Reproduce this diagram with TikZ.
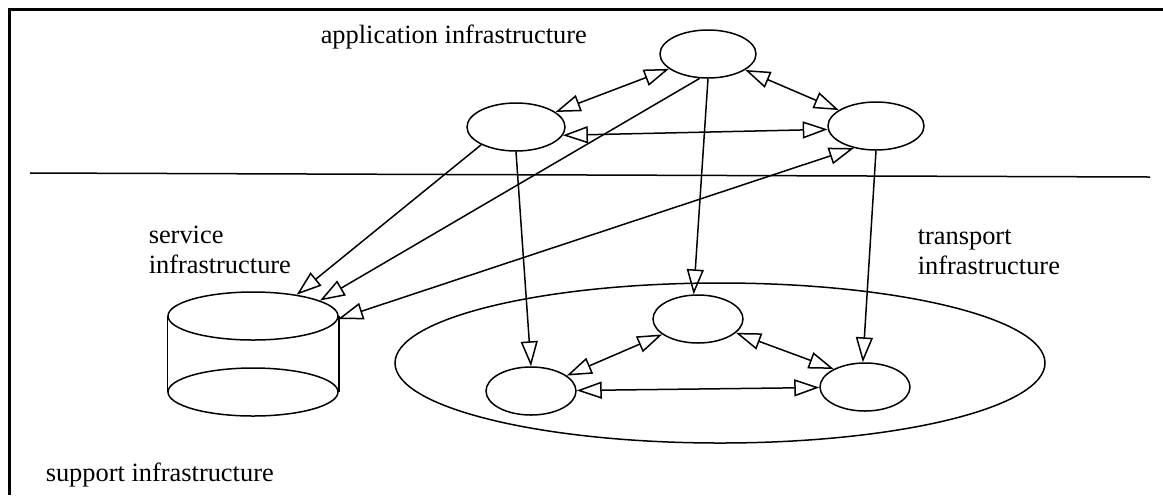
\documentclass[tikz,border=0pt]{standalone}
\usepackage{fontspec}
\setmainfont{Liberation Serif}
\usetikzlibrary{arrows.meta,shapes.geometric}

\begin{document}
\begin{tikzpicture}[x=0.5pt, y=-0.5pt, line width=0.75pt,
    every node/.style={inner sep=0pt, font=\fontsize{13.2}{15}\selectfont},
    comp/.style={draw, ellipse, minimum width=45pt, minimum height=24pt},
    lbl/.style={anchor=base west, align=left},
    link/.style={-{Triangle[open, length=12.5pt, width=8.5pt]}},
    both/.style={{Triangle[open, length=12.5pt, width=8.5pt]}-{Triangle[open, length=12.5pt, width=8.5pt]}}]
\useasboundingbox (0,0) rectangle (1163,495);
\draw[line width=1.5pt] (9,495) -- (9,9) -- (1163,9);
\draw (30,173) -- (1150,177);

\node [lbl] (applbl) at (320,43) {application infrastructure};
\node [lbl] (servlbl) at (148,273) {service\\infrastructure};
\node [lbl] (translbl) at (917,274) {transport\\infrastructure};
\node [lbl] (supplbl) at (45,481) {support infrastructure};

\node [comp, minimum width=48pt] (appA) at (708,54) {};
\node [comp, minimum width=49pt] (appB) at (516,127) {};
\node [comp, minimum width=48pt] (appC) at (876,126) {};

\node [draw, ellipse, minimum width=325pt, minimum height=80pt] (net) at (720,363) {};
\node [comp] (trD) at (698,319) {};
\node [comp] (trE) at (531,391) {};
\node [comp] (trF) at (865,387) {};

\node [comp, minimum width=85pt] (cylbase) at (253,392) {};
\node [comp, minimum width=85pt] (cyl) at (253,316) {};
\draw (cyl.west) -- (cylbase.west);
\draw (cyl.east) -- (cylbase.east);

\draw [both] (appB) -- (appA);
\draw [both] (appA) -- (appC);
\draw [both] (appB.-10) -- (appC.184);
\draw [both] (cyl.-2) -- (appC.225);
\draw [link] (appB.207) -- (cyl.26);
\draw [link] (appA.251) -- (cyl.13);
\draw [link] (appB.south) -- (trE.north);
\draw [link] (appA.south) -- (trD.100);
\draw [link] (appC.south) -- (trF.95);

\draw [both] (trE) -- (trD);
\draw [both] (trD.-20) -- (trF.150);
\draw [both] (trE) -- (trF);
\end{tikzpicture}
\end{document}
